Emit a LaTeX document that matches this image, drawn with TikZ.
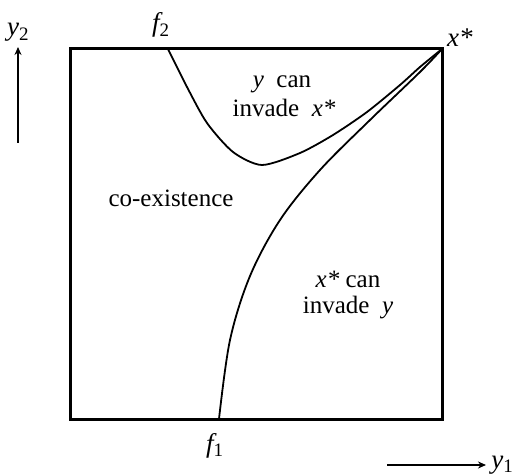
\documentclass[tikz,border=0pt]{standalone}
\usepackage{fontspec}
\setmainfont{Liberation Serif}
\usetikzlibrary{arrows.meta}
\newcommand{\subsc}[1]{\raisebox{-0.35ex}{\normalfont\upshape\fontsize{19}{20}\selectfont #1}}
\begin{document}
\begin{tikzpicture}[x=1pt,y=-1pt,
  lbl/.style={inner sep=0pt,font=\fontsize{25}{28}\selectfont},
  mlbl/.style={inner sep=0pt,font=\fontsize{27}{28}\selectfont\itshape},
  curve/.style={line width=1.8pt},
  axarrow/.style={line width=1.4pt,-{Stealth[length=8pt,width=7pt]}}]
\useasboundingbox (0,0) rectangle (514,476);
\draw[line width=3pt] (70,49) rectangle (442,419);
\draw[curve] plot[smooth,tension=0.45] coordinates {(168,49) (187,87) (207,123) (233,152) (262,165) (300,153) (333,135) (367,112) (400,85) (420,67) (442,49)};
\draw[curve] plot[smooth,tension=0.55] coordinates {(219,419) (230,340) (250,276) (280,220) (320,170) (370,120) (420,72) (442,49)};
\node[mlbl,anchor=base west] (xstar) at (447,47) {x*};
\node[mlbl,anchor=base west] (f2) at (152,32) {f\subsc{2}};
\node[mlbl,anchor=base west] (f1) at (206,452) {f\subsc{1}};
\node[mlbl,anchor=base west] (y2) at (7,36) {y\subsc{2}};
\node[mlbl,anchor=base east] (y1) at (513,468) {y\subsc{1}};
\coordinate (y2b) at (18,143);
\coordinate (y2t) at (18,47);
\draw[axarrow] (y2b) -- (y2t);
\coordinate (y1a) at (387,465);
\coordinate (y1b) at (486,465);
\draw[axarrow] (y1a) -- (y1b);
\node[lbl,anchor=base] (coex) at (171,206) {co-existence};
\node[lbl,anchor=base] (yinv1) at (282,88) {\textit{y}\ \ can};
\node[lbl,anchor=base] (yinv2) at (284,117) {invade\ \ \textit{x*}};
\node[lbl,anchor=base] (xinv1) at (348,287) {\textit{x*}\ can};
\node[lbl,anchor=base] (xinv2) at (348,313) {invade\ \ \textit{y}};
\end{tikzpicture}
\end{document}
